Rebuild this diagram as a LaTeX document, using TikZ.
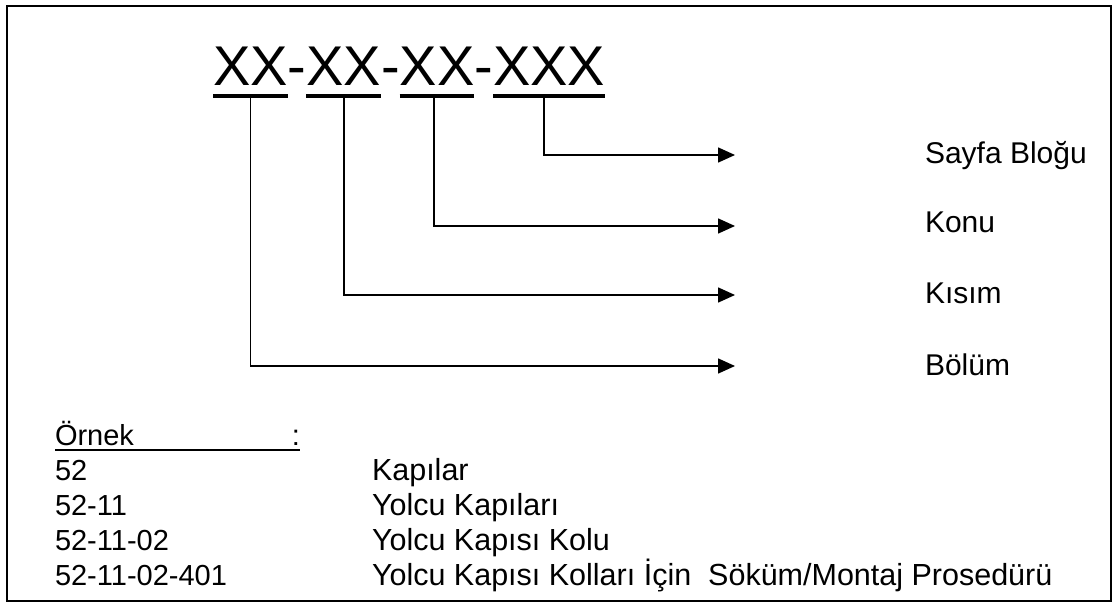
\documentclass[tikz,border=0pt]{standalone}
\usepackage{fontspec}
\setmainfont{Liberation Sans}
\usetikzlibrary{arrows.meta}
\tikzset{
  code/.style={inner sep=0pt, outer sep=0pt, anchor=base west, font=\fontsize{56}{56}\selectfont},
  lbl/.style={inner sep=0pt, outer sep=0pt, anchor=base west, font=\fontsize{30}{30}\selectfont},
  row/.style={inner sep=0pt, outer sep=0pt, anchor=base west, font=\fontsize{29}{29}\selectfont},
  desc/.style={inner sep=0pt, outer sep=0pt, anchor=base west, font=\fontsize{30.5}{30.5}\selectfont},
  bar/.style={line width=4pt},
  conn/.style={line width=1.6pt, -{Triangle[length=17pt,width=15pt]}},
}
\begin{document}
\begin{tikzpicture}[x=1pt,y=-1pt]
\useasboundingbox (0,0) rectangle (1113,605);
% frame
\draw[line width=2.2pt] (7,6) rectangle (1111,601);

% code pattern
\node[code] (g1) at (213,85) {XX};
\node[code] (h1) at (g1.base east) {-};
\node[code] (g2) at (h1.base east) {XX};
\node[code] (h2) at (g2.base east) {-};
\node[code] (g3) at (h2.base east) {XX};
\node[code] (h3) at (g3.base east) {-};
\node[code] (g4) at (h3.base east) {XXX};

% underlines of the groups
\foreach \g in {g1,g2,g3,g4}
  \draw[bar] ([yshift=-11pt]\g.base west) -- ([yshift=-11pt]\g.base east);

% arrow ends and labels
\coordinate (a1) at (735,155);
\coordinate (a2) at (735,226);
\coordinate (a3) at (735,295);
\coordinate (a4) at (735,366);
\node[lbl] (l1) at (925,163) {Sayfa Bloğu};
\node[lbl] (l2) at (925,232) {Konu};
\node[lbl] (l3) at (925,303) {Kısım};
\node[lbl] (l4) at (925,375) {Bölüm};

% connectors
\draw[conn] ([yshift=-13pt]g1.base) |- (a4);
\draw[conn] ([yshift=-13pt]g2.base) |- (a3);
\draw[conn] ([xshift=-3pt,yshift=-13pt]g3.base) |- (a2);
\draw[conn] ([xshift=-5pt,yshift=-13pt]g4.base) |- (a1);

% example table
\node[row] (ex) at (55,445) {Örnek};
\node[row, anchor=base east] (col) at (300,445) {:};
\draw[line width=1.8pt] ([yshift=-5pt]ex.base west) -- ([yshift=-5pt]col.base east);

\node[row] (k1) at (55,480) {52};
\node[row] (k2) at (55,515) {52-11};
\node[row] (k3) at (55,550) {52-11-02};
\node[row] (k4) at (55,585) {52-11-02-401};

\node[desc] (m1) at (372,480) {Kapılar};
\node[desc] (m2) at (372,515) {Yolcu Kapıları};
\node[desc] (m3) at (372,550) {Yolcu Kapısı Kolu};
\node[desc] (m4) at (372,585) {Yolcu Kapısı Kolları İçin~~Söküm/Montaj Prosedürü};
\end{tikzpicture}
\end{document}
